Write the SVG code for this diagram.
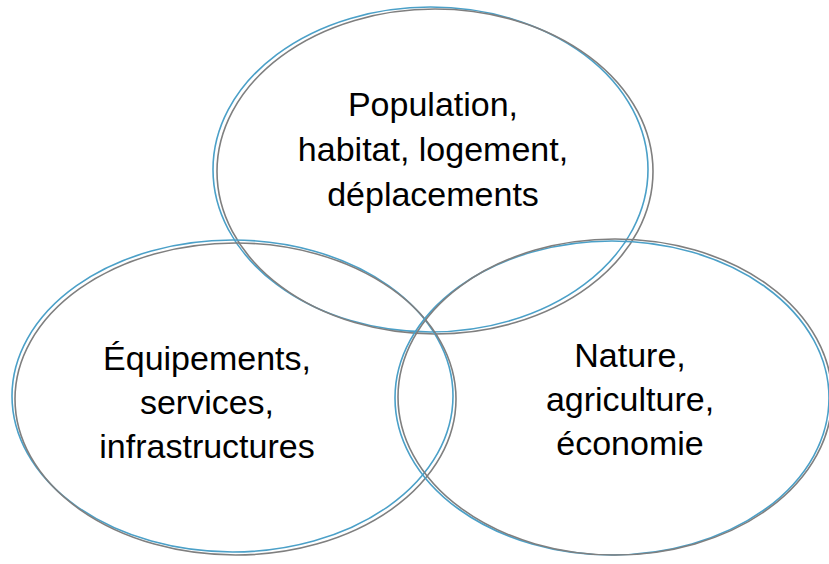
<svg xmlns="http://www.w3.org/2000/svg" width="829" height="564" viewBox="0 0 829 564">
<style>
.b{fill:none;stroke:#4BA0C8;stroke-width:1.6}
.g{fill:none;stroke:#7F7F7F;stroke-width:1.6}
text{font-family:"Liberation Sans",Arial,sans-serif;font-size:34px;fill:#000;text-anchor:middle}
</style>
<rect width="829" height="564" fill="#fff"/>
<g id="top">
<ellipse class="b" cx="430.5" cy="169.5" rx="217.5" ry="162.5"/>
<ellipse class="g" cx="435" cy="171.5" rx="218" ry="162.5"/>
<text x="433" y="116">Population,</text>
<text x="433" y="161">habitat, logement,</text>
<text x="433" y="206">déplacements</text>
</g>
<g id="left">
<ellipse class="b" cx="232.5" cy="396" rx="220.5" ry="156"/>
<ellipse class="g" cx="235.5" cy="399" rx="220.5" ry="156"/>
<text x="207" y="370">Équipements,</text>
<text x="207" y="414">services,</text>
<text x="207" y="458">infrastructures</text>
</g>
<g id="right">
<ellipse class="b" cx="612" cy="398" rx="217" ry="157"/>
<ellipse class="g" cx="615" cy="397" rx="217" ry="158"/>
<text x="630" y="367">Nature,</text>
<text x="630" y="411">agriculture,</text>
<text x="630" y="455">économie</text>
</g>
<g id="connectors"/>
</svg>
